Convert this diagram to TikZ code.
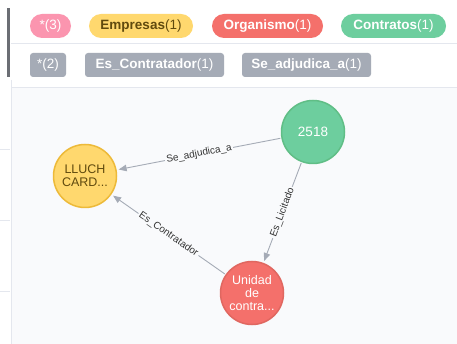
\documentclass[tikz,border=0pt]{standalone}
\usepackage{fontspec}
\setmainfont{Liberation Sans}
\usetikzlibrary{arrows.meta}
\definecolor{bgc}{HTML}{F9FAFC}
\definecolor{sepc}{HTML}{E4E7EE}
\definecolor{barc}{HTML}{6B6E74}
\definecolor{pinkc}{HTML}{FB95AF}
\definecolor{yelc}{HTML}{FFD86E}
\definecolor{yelb}{HTML}{EDBA39}
\definecolor{yelt}{HTML}{604A0E}
\definecolor{redc}{HTML}{F4706B}
\definecolor{redb}{HTML}{E06760}
\definecolor{grnc}{HTML}{6DCE9E}
\definecolor{grnb}{HTML}{60BE86}
\definecolor{gryc}{HTML}{A5ABB6}
\definecolor{labc}{HTML}{333333}
\tikzset{
  pill/.style={rounded corners=12pt, minimum height=24pt, inner sep=0pt, font=\fontsize{13.5}{14}\selectfont, text=white},
  reltype/.style={rounded corners=3pt, fill=gryc, minimum height=24pt, inner sep=0pt, font=\fontsize{13.5}{14}\selectfont, text=white},
  gnode/.style={circle, minimum size=63pt, inner sep=0pt, line width=1.5pt, align=center, font=\fontsize{12.5}{13.3}\selectfont},
  edge/.style={draw=gryc, line width=0.9pt, -{Triangle[length=8pt,width=6.5pt]}, shorten >=2pt, shorten <=1pt},
  elab/.style={sloped, fill=bgc, inner sep=1.5pt, text=labc, font=\fontsize{10}{10}\selectfont},
  sepline/.style={draw=sepc, line width=1pt},
  tick/.style={draw=sepc, line width=0.8pt}
}
\begin{document}
\begin{tikzpicture}[x=1pt,y=-1pt]
\useasboundingbox (0,0) rectangle (457,344);
\fill[white] (0,0) rectangle (457,344);
\fill[bgc] (11,88) rectangle (457,344);
\path[sepline] (11,44) -- (457,44);
\path[sepline] (11,88) -- (457,88);
\path[sepline] (11,80) -- (11,344);
\fill[barc] (7,8) rectangle (10,77);
\path[tick] (0,149) -- (10,149);
\path[tick] (0,220) -- (10,220);
\path[tick] (0,291) -- (10,291);
% label pills
\node[pill, fill=pinkc, minimum width=41pt] (p1) at (50.5,26) {*(3)};
\node[pill, fill=yelc, minimum width=104pt, text=yelt] (p2) at (141,26) {\textbf{Empresas}(1)};
\node[pill, fill=redc, minimum width=111pt] (p3) at (267.5,26) {\textbf{Organismo}(1)};
\node[pill, fill=grnc, minimum width=105pt] (p4) at (393.5,26) {\textbf{Contratos}(1)};
% relationship types
\node[reltype, minimum width=36pt] (r1) at (48,65) {*(2)};
\node[reltype, minimum width=139pt] (r2) at (154.5,65) {\textbf{Es\_Contratador}(1)};
\node[reltype, minimum width=129pt] (r3) at (306.5,65) {\textbf{Se\_adjudica\_a}(1)};
% graph nodes
\node[gnode, fill=yelc, draw=yelb, text=yelt] (lluch) at (85,176) {LLUCH\\CARD...};
\node[gnode, fill=grnc, draw=grnb, text=white, font=\fontsize{13.5}{14}\selectfont] (n2518) at (313,132) {2518};
\node[gnode, fill=redc, draw=redb, text=white] (unidad) at (252,293) {Unidad\\de\\contra...};
% relationships
\draw[edge] (n2518) -- node[elab] {Se\_adjudica\_a} (lluch);
\draw[edge] (n2518) -- node[elab] {Es\_Licitado} (unidad);
\draw[edge] (unidad) -- node[elab] {Es\_Contratador} (lluch);
\end{tikzpicture}
\end{document}
